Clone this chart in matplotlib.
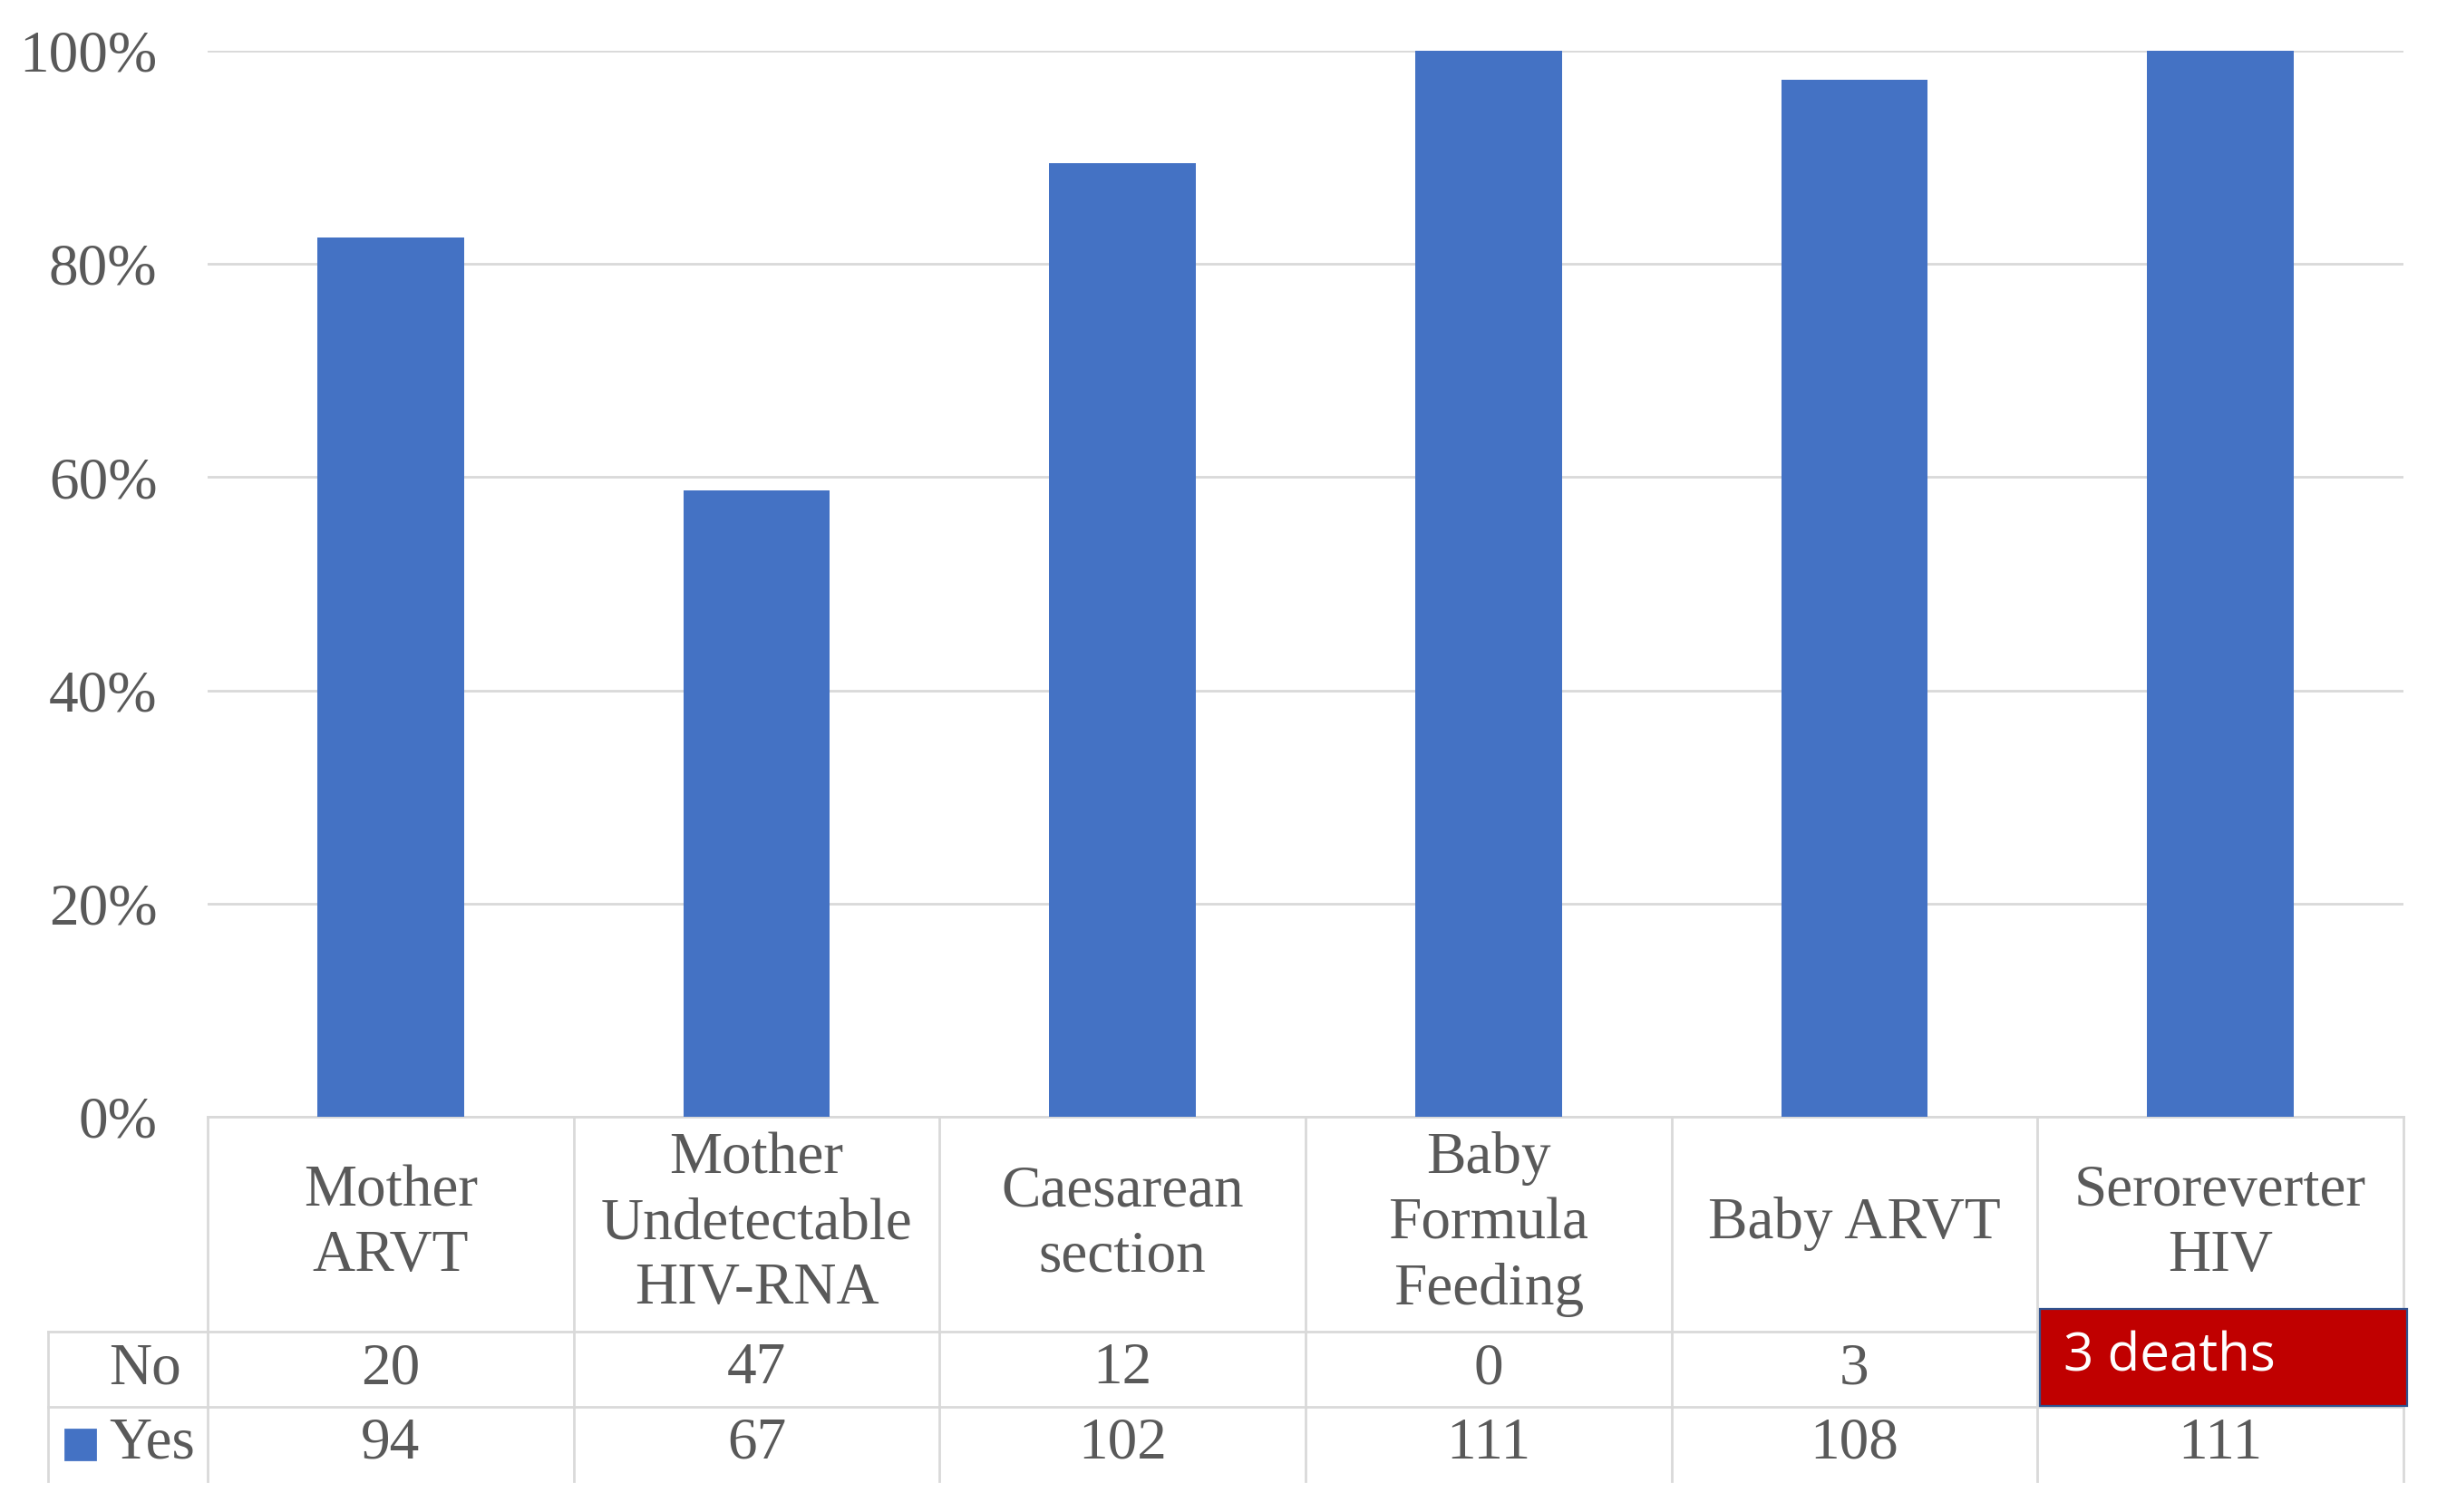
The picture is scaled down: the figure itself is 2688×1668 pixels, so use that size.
import matplotlib
matplotlib.use("Agg")
import matplotlib.pyplot as plt
from matplotlib.patches import Rectangle

# data
categories = ["Mother\nARVT", "Mother\nUndetectable\nHIV-RNA", "Caesarean\nsection",
              "Baby\nFormula\nFeeding", "Baby ARVT", "Seroreverter\nHIV"]
no_vals = [20, 47, 12, 0, 3, 0]
yes_vals = [94, 67, 102, 111, 108, 111]
yticks = [0, 0.2, 0.4, 0.6, 0.8, 1.0]
ytick_labels = ["0%", "20%", "40%", "60%", "80%", "100%"]
note_text = "3 deaths"
note_col_idx = 5  # column whose "No" cell is covered by the note

share_yes = [y / (y + n) for y, n in zip(yes_vals, no_vals)]

W, H, DPI = 2688, 1668, 200
plt.rcParams['font.family'] = ['Liberation Serif', 'DejaVu Serif']
txt_col = "#595959"
grid_col = "#D9D9D9"
bar_col = "#4472C4"
fs = 23.5

fig = plt.figure(figsize=(W / DPI, H / DPI), dpi=DPI)
# axes box in pixels: left 229, right 2651, top 56, bottom 1232
L, R, T, B = 229, 2651, 56, 1232
ax = fig.add_axes([L / W, 1 - B / H, (R - L) / W, (B - T) / H])
n = len(categories)
ax.set_xlim(-0.5, n - 0.5)
ax.set_ylim(0, 1)

xs = list(range(n))
ax.bar(xs, share_yes, width=0.4, color=bar_col, zorder=3)

ax.set_yticks(yticks)
ax.set_yticklabels(ytick_labels, fontsize=fs, color=txt_col)
ax.tick_params(axis='y', length=0, pad=20)
ax.set_xticks([])
ax.grid(axis='y', color=grid_col, lw=1.0, zorder=0)
for s in ax.spines.values():
    s.set_visible(False)

# pixel -> data helpers
ux = (R - L) / n
uy = (B - T) / 1.0
def dx(px):
    return -0.5 + (px - L) / ux
def dy(py):
    return -(py - B) / uy

row1, row2, row3 = 1469, 1552, 1634
lk = dict(color=grid_col, lw=1.0, clip_on=False, zorder=2)

# table lines
ax.plot([-0.5, n - 0.5], [0, 0], **lk)
ax.plot([dx(53), n - 0.5], [dy(row1), dy(row1)], **lk)
ax.plot([dx(53), n - 0.5], [dy(row2), dy(row2)], **lk)
ax.plot([dx(53), dx(53)], [dy(row1), dy(row3)], **lk)
for i in range(n + 1):
    ax.plot([i - 0.5, i - 0.5], [0, dy(row3)], **lk)

# header text
for i, c in enumerate(categories):
    ax.text(i, dy((B + row1) / 2), c, ha='center', va='center', fontsize=fs,
            color=txt_col, linespacing=1.27, clip_on=False)

# rows
y_no = dy((row1 + row2) / 2)
y_yes = dy((row2 + row3) / 2)
ax.text(dx(120), y_no, "No", ha='left', va='center', fontsize=fs, color=txt_col)
ax.text(dx(120), y_yes, "Yes", ha='left', va='center', fontsize=fs, color=txt_col)
ax.add_patch(Rectangle((dx(72), dy(1610)), dx(105) - dx(72), dy(1577) - dy(1610),
                       color=bar_col, clip_on=False))
for i in range(n):
    if i != note_col_idx:
        ax.text(i, y_no, str(no_vals[i]), ha='center', va='center', fontsize=fs, color=txt_col)
    ax.text(i, y_yes, str(yes_vals[i]), ha='center', va='center', fontsize=fs, color=txt_col)

# red note box over last "No" cell
ax.add_patch(Rectangle((dx(2250), dy(1551)), dx(2655) - dx(2250), dy(1444) - dy(1551),
                       facecolor="#C00000", edgecolor="#2F528F", lw=0.8,
                       clip_on=False, zorder=5))
ax.text(dx(2276), dy(1497), note_text, ha='left', va='center', fontsize=21,
        color='white', family=['Open Sans', 'DejaVu Sans'], zorder=6)

fig.savefig("out.png", dpi=DPI, facecolor='white')
